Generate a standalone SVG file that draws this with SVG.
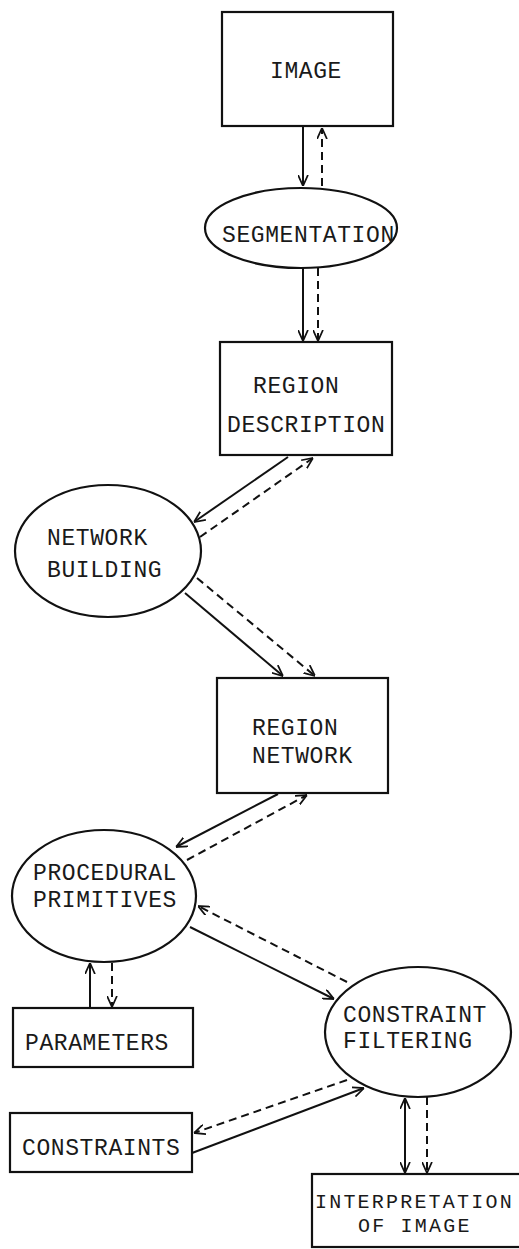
<svg xmlns="http://www.w3.org/2000/svg" width="519" height="1249" viewBox="0 0 519 1249">
<style>
.box{fill:#fff;stroke:#111;stroke-width:2.2}
.lbl{font-family:"Liberation Mono","DejaVu Sans Mono",monospace;font-size:23px;letter-spacing:0.6px;fill:#1a1a1a}
.sm{font-size:20px;letter-spacing:2.2px}
.s{stroke:#111;stroke-width:2;fill:none;marker-end:url(#ah)}
.d{stroke:#111;stroke-width:2;fill:none;stroke-dasharray:8 5;marker-end:url(#ah)}
</style>
<defs>
<marker id="ah" viewBox="0 0 10 10" refX="10" refY="5" markerWidth="11" markerHeight="11" markerUnits="userSpaceOnUse" orient="auto">
<path d="M0,0.5 L10,5 L0,9.5" fill="none" stroke="#111" stroke-width="1.6"/>
</marker>
<marker id="ahs" viewBox="0 0 10 10" refX="10" refY="5" markerWidth="11" markerHeight="11" markerUnits="userSpaceOnUse" orient="auto-start-reverse">
<path d="M0,0.5 L10,5 L0,9.5" fill="none" stroke="#111" stroke-width="1.6"/>
</marker>
</defs>
<g id="connectors">
<line class="s" x1="303" y1="127" x2="303" y2="186"/>
<line class="d" x1="322" y1="186" x2="322" y2="128"/>
<line class="s" x1="303" y1="268" x2="303" y2="341"/>
<line class="d" x1="318" y1="268" x2="318" y2="341"/>
<line class="s" x1="288" y1="457" x2="194" y2="522"/>
<line class="d" x1="200" y1="537" x2="313" y2="458"/>
<line class="s" x1="185" y1="593" x2="283" y2="676"/>
<line class="d" x1="197" y1="578" x2="315" y2="676"/>
<line class="s" x1="278" y1="794" x2="176" y2="847"/>
<line class="d" x1="187" y1="860" x2="307" y2="795"/>
<line class="d" x1="347" y1="982" x2="198" y2="906"/>
<line class="s" x1="190" y1="927" x2="334" y2="999"/>
<line class="s" x1="90" y1="1008" x2="90" y2="963"/>
<line class="d" x1="112" y1="963" x2="112" y2="1007"/>
<line class="d" x1="347" y1="1080" x2="194" y2="1133"/>
<line class="s" x1="192" y1="1153" x2="364" y2="1088"/>
<line x1="405" y1="1098" x2="405" y2="1173" stroke="#111" stroke-width="2" marker-start="url(#ahs)" marker-end="url(#ah)"/>
<line class="d" x1="427" y1="1097" x2="427" y2="1173"/>
</g>
<g id="image">
<rect class="box" x="222" y="12" width="171" height="114"/>
<text class="lbl" x="270" y="78">IMAGE</text>
</g>
<g id="segmentation">
<ellipse class="box" cx="301" cy="228" rx="96" ry="40"/>
<text class="lbl" x="222" y="242">SEGMENTATION</text>
</g>
<g id="region-description">
<rect class="box" x="220" y="342" width="172" height="113"/>
<text class="lbl" x="253" y="393">REGION</text>
<text class="lbl" x="227" y="432">DESCRIPTION</text>
</g>
<g id="network-building">
<ellipse class="box" cx="108" cy="551" rx="93" ry="66"/>
<text class="lbl" x="47" y="545">NETWORK</text>
<text class="lbl" x="47" y="577">BUILDING</text>
</g>
<g id="region-network">
<rect class="box" x="217" y="678" width="171" height="115"/>
<text class="lbl" x="252" y="735">REGION</text>
<text class="lbl" x="252" y="763">NETWORK</text>
</g>
<g id="procedural-primitives">
<ellipse class="box" cx="104" cy="896" rx="92" ry="66"/>
<text class="lbl" x="33" y="880">PROCEDURAL</text>
<text class="lbl" x="33" y="907">PRIMITIVES</text>
</g>
<g id="constraint-filtering">
<ellipse class="box" cx="418" cy="1032" rx="93" ry="65"/>
<text class="lbl" x="343" y="1022">CONSTRAINT</text>
<text class="lbl" x="343" y="1048">FILTERING</text>
</g>
<g id="parameters">
<rect class="box" x="13" y="1008" width="180" height="59"/>
<text class="lbl" x="25" y="1050">PARAMETERS</text>
</g>
<g id="constraints">
<rect class="box" x="10" y="1113" width="182" height="59"/>
<text class="lbl" x="22" y="1155">CONSTRAINTS</text>
</g>
<g id="interpretation">
<rect class="box" x="312" y="1174" width="215" height="73"/>
<text class="lbl sm" x="315" y="1208">INTERPRETATION</text>
<text class="lbl sm" x="358" y="1232">OF IMAGE</text>
</g>
</svg>
